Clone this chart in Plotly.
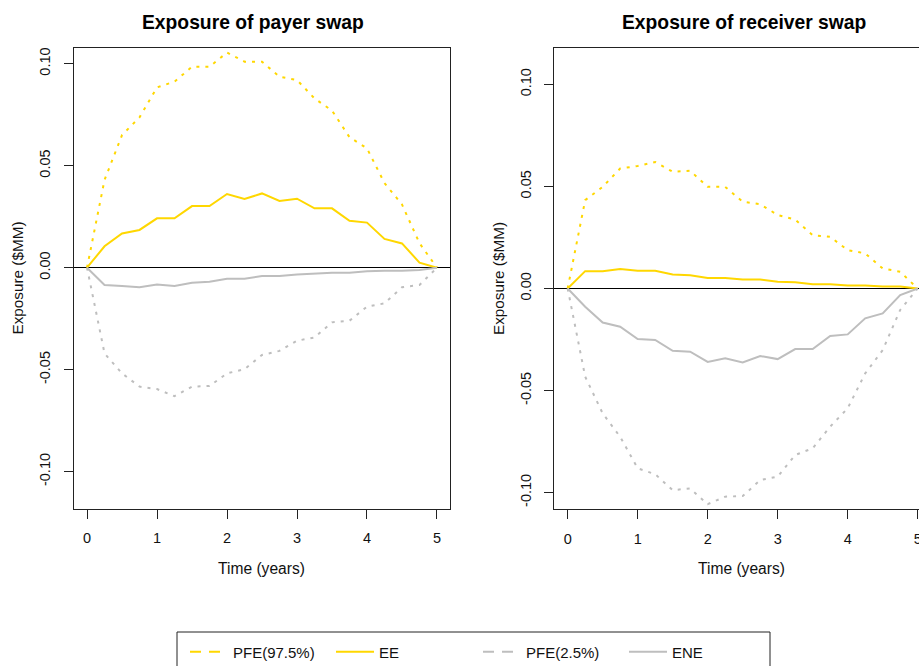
import plotly.graph_objects as go

# ---------------- data ----------------
time_years = [0, 0.25, 0.5, 0.75, 1.0, 1.25, 1.5, 1.75, 2.0, 2.25, 2.5,
              2.75, 3.0, 3.25, 3.5, 3.75, 4.0, 4.25, 4.5, 4.75, 5.0]

payer_pfe975 = [0, 0.043, 0.065, 0.0737, 0.0884, 0.0912, 0.0985, 0.0985, 0.1055, 0.101, 0.101,
                0.0936, 0.092, 0.083, 0.077, 0.064, 0.0585, 0.0415, 0.031, 0.012, 0.0]
payer_ee = [0, 0.0105, 0.0168, 0.0185, 0.0242, 0.0242, 0.0302, 0.0302, 0.0361, 0.0337, 0.0364,
            0.0327, 0.0338, 0.0291, 0.0291, 0.0230, 0.0221, 0.0141, 0.0119, 0.0025, 0.0]
payer_pfe025 = [0, -0.042, -0.0518, -0.0583, -0.0595, -0.063, -0.0583, -0.058, -0.0518, -0.0498, -0.0428,
                -0.0408, -0.0358, -0.0342, -0.0268, -0.026, -0.0191, -0.0175, -0.0096, -0.0085, 0.0]
payer_ene = [0, -0.0085, -0.009, -0.0096, -0.0082, -0.009, -0.0074, -0.0069, -0.0054, -0.0054, -0.0041,
             -0.0041, -0.0033, -0.0028, -0.0025, -0.0025, -0.0018, -0.0015, -0.0015, -0.0011, 0.0]

recv_pfe975 = [0, 0.0433, 0.0498, 0.0588, 0.060, 0.062, 0.0572, 0.0577, 0.0498, 0.0498, 0.0425,
               0.0413, 0.036, 0.0338, 0.0261, 0.0253, 0.0188, 0.0172, 0.0098, 0.0082, 0.0]
recv_ee = [0, 0.0085, 0.0085, 0.0095, 0.0087, 0.0087, 0.0069, 0.0065, 0.0052, 0.0052, 0.0044,
           0.0044, 0.0033, 0.0031, 0.0021, 0.0021, 0.0015, 0.0015, 0.001, 0.001, 0.0]
recv_pfe025 = [0, -0.0432, -0.0612, -0.0727, -0.0881, -0.091, -0.0988, -0.098, -0.1057, -0.102, -0.1017,
               -0.0939, -0.0922, -0.0816, -0.0783, -0.0677, -0.0587, -0.0416, -0.0302, -0.0105, 0.0]
recv_ene = [0, -0.0089, -0.0167, -0.0187, -0.0248, -0.0252, -0.0305, -0.031, -0.036, -0.0342, -0.0362,
            -0.0331, -0.0346, -0.0297, -0.0297, -0.0233, -0.0225, -0.0146, -0.0122, -0.0032, 0.0]

y_tick_vals = [-0.10, -0.05, 0.0, 0.05, 0.10]
y_tick_text = ["-0.10", "-0.05", "0.00", "0.05", "0.10"]
x_tick_vals = [0, 1, 2, 3, 4, 5]
x_tick_text = ["0", "1", "2", "3", "4", "5"]

panel_titles = ["Exposure of payer swap", "Exposure of receiver swap"]
x_label = "Time (years)"
y_label = "Exposure ($MM)"
legend_names = ["PFE(97.5%)", "EE", "PFE(2.5%)", "ENE"]

# ---------------- styling ----------------
W, H = 919, 666
GOLD = "#FFD700"
GREY = "#BEBEBE"
FONT = "Liberation Sans, Arial, sans-serif"
DOT = "3px,6px"


def px_x(p):
    return p / W


def px_y(p):
    return 1 - p / H


fig = go.Figure()

panels = [
    ("x", "y", payer_pfe975, payer_ee, payer_pfe025, payer_ene),
    ("x2", "y2", recv_pfe975, recv_ee, recv_pfe025, recv_ene),
]
for xa, ya, pfe_hi, ee, pfe_lo, ene in panels:
    fig.add_trace(go.Scatter(x=time_years, y=pfe_hi, mode="lines", xaxis=xa, yaxis=ya,
                             line=dict(color=GOLD, width=2, dash=DOT), showlegend=False,
                             hoverinfo="skip"))
    fig.add_trace(go.Scatter(x=time_years, y=ee, mode="lines", xaxis=xa, yaxis=ya,
                             line=dict(color=GOLD, width=2), showlegend=False, hoverinfo="skip"))
    fig.add_trace(go.Scatter(x=time_years, y=pfe_lo, mode="lines", xaxis=xa, yaxis=ya,
                             line=dict(color=GREY, width=2, dash=DOT), showlegend=False,
                             hoverinfo="skip"))
    fig.add_trace(go.Scatter(x=time_years, y=ene, mode="lines", xaxis=xa, yaxis=ya,
                             line=dict(color=GREY, width=2), showlegend=False, hoverinfo="skip"))

# legend entries (one legend per entry so each can be placed precisely)
leg_styles = [(GOLD, "11px,8px"), (GOLD, "solid"), (GREY, "11px,8px"), (GREY, "solid")]
leg_ids = ["legend", "legend2", "legend3", "legend4"]
leg_line_left = [191, 337, 484, 630]
for name, (col, dash), lid in zip(legend_names, leg_styles, leg_ids):
    fig.add_trace(go.Scatter(x=[None], y=[None], mode="lines", name=name, legend=lid,
                             line=dict(color=col, width=2, dash=dash), showlegend=True))

legend_common = dict(orientation="h", xanchor="left", yanchor="middle", bgcolor="rgba(0,0,0,0)",
                     borderwidth=0, font=dict(family=FONT, size=15, color="#111"), itemwidth=38)
leg_layout = {}
for lid, lx in zip(leg_ids, leg_line_left):
    leg_layout[lid] = dict(legend_common, x=px_x(lx - 6), y=px_y(652))

axis_font = dict(family=FONT, size=14.5, color="#111")

common_x = dict(tickvals=x_tick_vals, ticktext=x_tick_text, showgrid=False,
                zeroline=False, showline=True, linecolor="#222", linewidth=1, mirror=True,
                ticks="outside", ticklen=9, tickwidth=1, tickcolor="#222", tickfont=axis_font,
                ticklabelstandoff=7, ticklabeloverflow="allow")
common_y = dict(tickvals=y_tick_vals, ticktext=y_tick_text, showgrid=False, zeroline=True,
                zerolinecolor="#000", zerolinewidth=1, showline=True, linecolor="#222",
                linewidth=1, ticks="outside", ticklen=9, tickwidth=1, tickcolor="#222",
                tickfont=axis_font, tickangle=-90, ticklabelstandoff=8)

fig.update_layout(
    width=W, height=H,
    margin=dict(l=0, r=0, t=0, b=0, autoexpand=False),
    paper_bgcolor="white", plot_bgcolor="white",
    font=dict(family=FONT, color="#111"),
    xaxis=dict(common_x, domain=[px_x(74), px_x(450)], range=[-0.186, 5.186], anchor="y"),
    yaxis=dict(common_y, domain=[px_y(509), px_y(48)], range=[-0.1183, 0.1077], anchor="x",
               mirror=True),
    xaxis2=dict(common_x, domain=[px_x(554.3), 1.0], range=[-0.191, 5.0186], anchor="y2"),
    yaxis2=dict(common_y, domain=[px_y(509.3), px_y(48.3)], range=[-0.1082, 0.1177],
                anchor="x2", mirror=False),
    showlegend=True,
    **leg_layout,
)

ann = []
# panel titles
for txt, cx in zip(panel_titles, [253, 744]):
    ann.append(dict(text="<b>%s</b>" % txt, x=px_x(cx), y=px_y(22), xref="paper", yref="paper",
                    showarrow=False, xanchor="center", yanchor="middle",
                    font=dict(family=FONT, size=19.3, color="#000")))
# x-axis labels
for cx in [261, 741]:
    ann.append(dict(text=x_label, x=px_x(cx), y=px_y(568), xref="paper", yref="paper",
                    showarrow=False, xanchor="center", yanchor="middle",
                    font=dict(family=FONT, size=15.6, color="#111")))
# y-axis labels
for cx in [17, 498.5]:
    ann.append(dict(text=y_label, x=px_x(cx), y=px_y(278.5), xref="paper", yref="paper",
                    showarrow=False, xanchor="center", yanchor="middle", textangle=-90,
                    font=dict(family=FONT, size=15.3, color="#111")))
fig.update_layout(annotations=ann)

# legend frame (bottom edge runs off the page as in the reference)
fig.add_shape(type="rect", xref="paper", yref="paper", x0=px_x(177), x1=px_x(770),
              y0=px_y(632), y1=px_y(720), line=dict(color="#222", width=1),
              fillcolor="rgba(0,0,0,0)", layer="below")

fig.write_html(
    "out.html",
    config={"displayModeBar": False},
    post_script="document.body.style.margin='0px';document.body.style.overflow='hidden';",
)
